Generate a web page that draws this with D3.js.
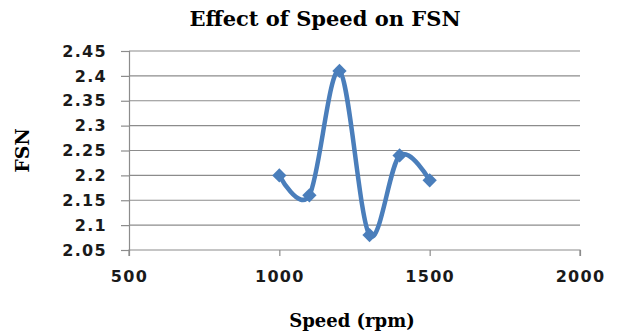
<!DOCTYPE html>
<html>
<head>
<meta charset="utf-8">
<script src="https://cdn.jsdelivr.net/npm/d3@7"></script>
<style>
  body { margin: 0; background: #fff; }
  svg { display: block; }
</style>
</head>
<body>
<div class="js-chart"></div>
<script>
'use strict';

// data
const speeds = [1000, 1100, 1200, 1300, 1400, 1500];
const fsn = [2.2, 2.16, 2.41, 2.08, 2.24, 2.19];
const xTicks = [500, 1000, 1500, 2000];
const yTicks = [2.05, 2.1, 2.15, 2.2, 2.25, 2.3, 2.35, 2.4, 2.45];

const width = 618;
const height = 333;
const margin = { top: 51, right: 38, bottom: 83, left: 129 };
const graphWidth = width - margin.left - margin.right;
const graphHeight = height - margin.top - margin.bottom;

const blue = '#4a7ebb';
const grey = '#8c8c8c';

const svg = d3.select('.js-chart')
    .append('svg')
    .attr('width', width)
    .attr('height', height);

const graph = svg.append('g')
    .attr('transform', `translate(${margin.left}, ${margin.top})`);

// scales
const x = d3.scaleLinear().domain([500, 2000]).range([0, graphWidth]);
const y = d3.scaleLinear().domain([2.05, 2.45]).range([graphHeight, 0]);

// gridlines
graph.append('g')
    .selectAll('line')
    .data(yTicks.slice(1))
    .enter()
    .append('line')
    .attr('x1', 0)
    .attr('x2', graphWidth)
    .attr('y1', d => y(d))
    .attr('y2', d => y(d))
    .attr('stroke', grey)
    .attr('stroke-width', 1.2);

// axes
const xAxis = d3.axisBottom(x)
    .tickValues(xTicks)
    .tickSize(6)
    .tickPadding(15)
    .tickFormat(d3.format('d'));

const yAxis = d3.axisLeft(y)
    .tickValues(yTicks)
    .tickSize(8)
    .tickPadding(14)
    .tickFormat(d => String(+d.toFixed(2)));

const xAxisGroup = graph.append('g')
    .attr('transform', `translate(0, ${graphHeight})`)
    .call(xAxis);

const yAxisGroup = graph.append('g')
    .call(yAxis);

[xAxisGroup, yAxisGroup].forEach(g => {
    g.select('.domain').attr('stroke', grey).attr('stroke-width', 1.2);
    g.selectAll('.tick line').attr('stroke', grey).attr('stroke-width', 1.2);
    g.selectAll('text')
        .attr('fill', '#1a1a1a')
        .style('font-family', '"DejaVu Sans", Verdana, sans-serif')
        .style('font-weight', 'bold')
        .style('font-size', '16px')
        .style('letter-spacing', '1.3px');
});
xAxisGroup.select('.domain').attr('d', `M0,6V0H${graphWidth}V6`);

// smoothed line
const line = d3.line()
    .x((d, i) => x(speeds[i]))
    .y(d => y(d))
    .curve(d3.curveCardinal.tension(0));

graph.append('path')
    .datum(fsn)
    .attr('fill', 'none')
    .attr('stroke', blue)
    .attr('stroke-width', 4.5)
    .attr('stroke-linejoin', 'round')
    .attr('d', line);

// diamond markers
graph.selectAll('.marker')
    .data(fsn)
    .enter()
    .append('path')
    .attr('class', 'marker')
    .attr('d', d3.symbol().type(d3.symbolDiamond2).size(130))
    .attr('transform', (d, i) => `translate(${x(speeds[i])}, ${y(d)})`)
    .attr('fill', blue);

// title and axis labels
svg.append('text')
    .attr('x', 325)
    .attr('y', 26)
    .attr('text-anchor', 'middle')
    .style('font-family', '"DejaVu Serif", serif')
    .style('font-weight', 'bold')
    .style('font-size', '21px')
    .text('Effect of Speed on FSN');

svg.append('text')
    .attr('x', 352)
    .attr('y', 327)
    .attr('text-anchor', 'middle')
    .style('font-family', '"DejaVu Serif", serif')
    .style('font-weight', 'bold')
    .style('font-size', '18px')
    .text('Speed (rpm)');

svg.append('text')
    .attr('transform', `translate(29, ${margin.top + graphHeight / 2}) rotate(-90)`)
    .attr('text-anchor', 'middle')
    .style('font-family', '"DejaVu Serif", serif')
    .style('font-weight', 'bold')
    .style('font-size', '19px')
    .text('FSN');
</script>
</body>
</html>
